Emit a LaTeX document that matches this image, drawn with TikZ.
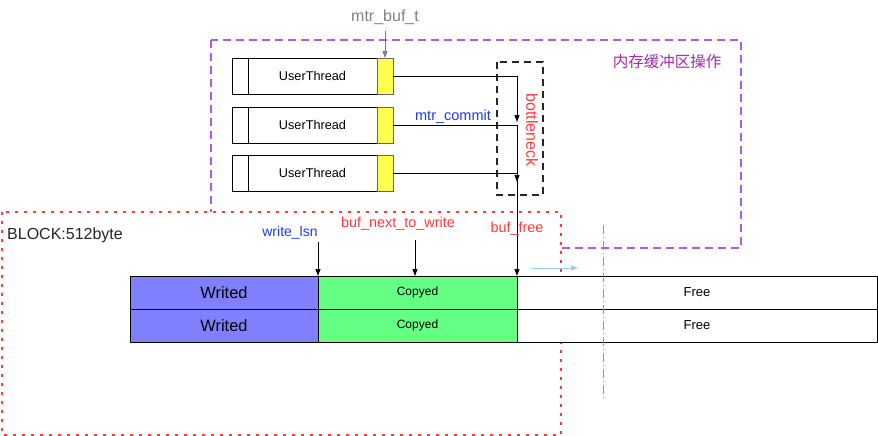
\documentclass[tikz,border=0pt]{standalone}
\usepackage{fontspec}
\setmainfont{Liberation Sans}
\newfontfamily\cjk{Noto Sans CJK SC}
\usetikzlibrary{positioning,arrows.meta}
\definecolor{memviolet}{HTML}{B45AE0}
\definecolor{memtext}{HTML}{A22BA8}
\definecolor{blockred}{HTML}{FF3B3B}
\definecolor{lblblue}{HTML}{1F3DF0}
\definecolor{writedblue}{HTML}{7F7FFF}
\definecolor{copyedgreen}{HTML}{66FF86}
\definecolor{thryellow}{HTML}{FFFF4D}
\definecolor{freeblue}{HTML}{9CCCF5}
\begin{document}
\begin{tikzpicture}[x=1pt, y=-1pt, >={Triangle[width=5pt,length=7pt]},
		thread/.style = {draw, line width=0.9pt, minimum width=145pt, minimum height=36pt, inner sep=0pt, outer sep=0pt, anchor=north west, font=\fontsize{12.7}{14}\selectfont},
		slot/.style = {draw=black!60, line width=0.9pt, fill=thryellow, minimum width=16pt, minimum height=36pt, inner sep=0pt, outer sep=0pt, anchor=north west},
		cell/.style = {draw, line width=0.9pt, minimum height=33pt, inner sep=0pt, outer sep=0pt, anchor=north west},
		lbl/.style = {font=\fontsize{14}{16}\selectfont, inner sep=1pt}]
		\useasboundingbox (0,0) rectangle (878,436);
		% memory buffer region and block region
		\draw[memviolet, line width=1.6pt, dash pattern=on 8pt off 5pt] (211,40) rectangle (741,248);
		\node[memtext, lbl, font=\cjk\fontsize{15.5}{17}\selectfont] (memop) at (667,62) {内存缓冲区操作};
		\draw[blockred, fill=white, line width=1.8pt, dash pattern=on 3pt off 6pt] (2,212) rectangle (561,435);
		\node[lbl, black!85, font=\fontsize{16}{18}\selectfont] (block) at (65,235) {BLOCK:512byte};

		% user threads
		\node[thread] (t1) at (232,58) {\hspace*{16pt}UserThread};
		\node[thread] (t2) at (232,107) {\hspace*{16pt}UserThread};
		\node[thread] (t3) at (232,155) {\hspace*{16pt}UserThread};
		\foreach \t in {t1,t2,t3}
			\draw[line width=0.9pt] ([xshift=16pt]\t.north west) -- ([xshift=16pt]\t.south west);
		\node[slot] (y1) at (t1.north east) {};
		\node[slot] (y2) at (t2.north east) {};
		\node[slot] (y3) at (t3.north east) {};

		\node[lbl, black!50, font=\fontsize{16}{18}\selectfont] (mtrbuf) at (385,17) {mtr\_buf\_t};
		\draw[->, black!50, line width=0.9pt] (385,31) -- (y1.north);

		% bottleneck
		\draw[black!85, line width=1.6pt, dash pattern=on 7pt off 5pt] (497,62) rectangle (543,195);
		\node[blockred, lbl, rotate=-90, font=\fontsize{16}{18}\selectfont] (bneck) at (532,130) {bottleneck};
		\node[lbl, lblblue, font=\fontsize{14.5}{16}\selectfont] (commit) at (453,117) {mtr\_commit};

		% block table
		\node[cell, fill=writedblue, minimum width=188pt, font=\fontsize{16.4}{18}\selectfont] (w1) at (130,276) {Writed};
		\node[cell, fill=writedblue, minimum width=188pt, font=\fontsize{16.4}{18}\selectfont] (w2) at (130,309) {Writed};
		\node[cell, fill=copyedgreen, minimum width=199pt, font=\fontsize{12}{14}\selectfont] (c1) at (w1.north east) {Copyed};
		\node[cell, fill=copyedgreen, minimum width=199pt, font=\fontsize{12}{14}\selectfont] (c2) at (w2.north east) {Copyed};
		\node[cell, fill=white, minimum width=360pt, font=\fontsize{13}{15}\selectfont] (f1) at (c1.north east) {Free};
		\node[cell, fill=white, minimum width=360pt, font=\fontsize{13}{15}\selectfont] (f2) at (c2.north east) {Free};

		\coordinate (bx) at (c1.north east);
		\coordinate (j1) at (y1.east -| bx);
		\coordinate (j2) at (y2.east -| bx);
		\coordinate (j3) at (y3.east -| bx);
		\draw[->, line width=0.9pt] (y1.east) -- (j1) -- ([yshift=3pt]j2);
		\draw[->, line width=0.9pt] (y2.east) -- (j2) -- ([yshift=-9pt]j3);
		\draw[->, line width=0.9pt] (y3.east) -- (j3) -- (c1.north east);

		% pointers
		\node[lbl, lblblue] (wlsn) at (290,233) {write\_lsn};
		\node[lbl, blockred, font=\fontsize{14.4}{16}\selectfont] (bnext) at (398,224) {buf\_next\_to\_write};
		\node[lbl, blockred, font=\fontsize{14.4}{16}\selectfont] (bfree) at (517,229) {buf\_free};
		\draw[->, line width=0.9pt] (318,242) -- (c1.north west);
		\draw[->, line width=0.9pt] (415,240) -- (415,276);
		\coordinate (g1) at (532,268);
		\coordinate (g2) at (578,268);
		\draw[->, freeblue, line width=0.9pt] (g1) -- (g2);
		\coordinate (d1) at (603,225);
		\coordinate (d2) at (603,400);
		\draw[black!40, line width=0.9pt, dash pattern=on 9pt off 3pt on 1pt off 3pt] (d1) -- (d2);
\end{tikzpicture}
\end{document}
